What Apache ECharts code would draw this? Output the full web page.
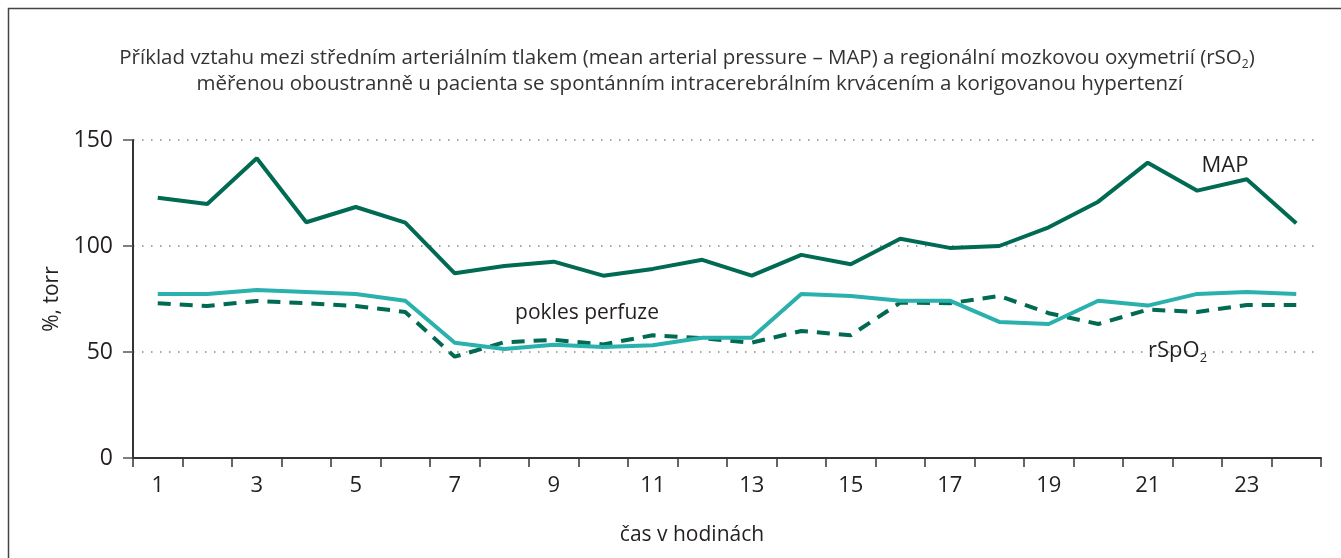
<!DOCTYPE html>
<html>
<head>
<meta charset="utf-8">
<script src="https://cdn.jsdelivr.net/npm/echarts@6/dist/echarts.min.js"></script>
<style>
html,body{margin:0;padding:0;background:#fff;}
#chart{width:1341px;height:558px;}
</style>
</head>
<body>
<div id="chart"></div>
<script>
const hours = ['1','2','3','4','5','6','7','8','9','10','11','12','13','14','15','16','17','18','19','20','21','22','23','24'];
const mapValues = [122.8,119.8,141.4,111.2,118.4,111.0,87.1,90.6,92.6,86.0,89.2,93.5,86.0,95.8,91.4,103.4,99.1,100.0,108.8,120.9,139.3,126.1,131.5,110.7];
const rspo2Solid = [77.4,77.4,79.2,78.3,77.4,74.2,54.4,51.4,53.4,52.4,53.2,56.7,56.7,77.4,76.4,74.2,74.2,64.2,63.2,74.2,71.9,77.4,78.3,77.4];
const rspo2Dashed = [73.0,71.7,74.1,73.0,71.7,68.9,47.8,54.6,55.7,53.6,57.9,56.5,54.4,59.9,57.9,73.3,73.0,76.4,68.3,63.2,70.0,68.9,72.2,72.2];
const yTicks = [0,50,100,150];

const FONT = 'Open Sans';
const TXT = '#231f20';
const DARK = '#006a52';
const TEAL = '#2ab0ad';

const chart = echarts.init(document.getElementById('chart'), null, {renderer:'canvas'});
chart.setOption({
  animation:false,
  backgroundColor:'#fff',
  textStyle:{fontFamily:FONT},
  title:{
    left:682, textAlign:'center', top:40,
    text:'Příklad vztahu mezi středním arteriálním tlakem (mean arterial pressure – MAP) a regionální mozkovou oxymetrií (rSO{sub|2})\n měřenou oboustranně u pacienta se spontánním intracerebrálním krvácením a korigovanou hypertenzí',
    textStyle:{fontFamily:FONT,fontSize:20.5,fontWeight:'normal',color:'#333',lineHeight:26,
      rich:{sub:{fontSize:12,verticalAlign:'bottom',padding:[10,0,0,0],color:'#333',fontFamily:FONT}}}
  },
  grid:{left:133,right:20,top:140,bottom:100,containLabel:false},
  xAxis:{
    type:'category', data:hours, boundaryGap:true,
    axisLine:{lineStyle:{color:'#333',width:2}},
    axisTick:{show:true,interval:0,length:9,lineStyle:{color:'#333',width:1.5}},
    axisLabel:{interval:1,fontSize:22,color:TXT,fontFamily:FONT,margin:17},
    splitLine:{show:false}
  },
  yAxis:{
    type:'value', min:0, max:150, interval:50,
    name:'%, torr', nameLocation:'middle', nameGap:68, nameRotate:90,
    nameTextStyle:{fontSize:21,color:TXT,fontFamily:FONT},
    axisLine:{show:true,lineStyle:{color:'#333',width:2}},
    axisTick:{show:true,length:10,lineStyle:{color:'#555',width:1.5}},
    axisLabel:{fontSize:23,color:TXT,fontFamily:FONT,margin:20,
      formatter:function(v){return yTicks.indexOf(v)>=0?String(v):'';}},
    splitLine:{show:true,lineStyle:{color:'#888',width:1.5,type:[1.5,7.5]}}
  },
  series:[
    {name:'MAP',type:'line',data:mapValues,symbol:'none',lineStyle:{color:DARK,width:4},z:3},
    {name:'rSpO2 dashed',type:'line',data:rspo2Dashed,symbol:'none',lineStyle:{color:DARK,width:4,type:[13,9]},z:2},
    {name:'rSpO2',type:'line',data:rspo2Solid,symbol:'none',lineStyle:{color:TEAL,width:4},z:2}
  ],
  graphic:[
    {type:'rect',shape:{x:8.5,y:8.5,width:1400,height:700},style:{fill:'none',stroke:'#444',lineWidth:1.5},silent:true},
    {type:'text',x:692,y:535,style:{text:'čas v hodinách',fontFamily:FONT,fontSize:21,fill:TXT,textAlign:'center',textVerticalAlign:'middle'}},
    {type:'text',x:1225,y:166,style:{text:'MAP',fontFamily:FONT,fontSize:22,fill:TXT,textAlign:'center',textVerticalAlign:'middle'}},
    {type:'text',x:587,y:313,style:{text:'pokles perfuze',fontFamily:FONT,fontSize:21,fill:TXT,textAlign:'center',textVerticalAlign:'middle'}},
    {type:'text',x:1148,y:351,style:{text:'rSpO{sub|2}',fontFamily:FONT,fontSize:22,fill:TXT,textAlign:'left',textVerticalAlign:'middle',
      rich:{sub:{fontSize:13,fill:TXT,fontFamily:FONT,padding:[14,0,0,0],verticalAlign:'bottom'}}}}
  ]
});
</script>
</body>
</html>
